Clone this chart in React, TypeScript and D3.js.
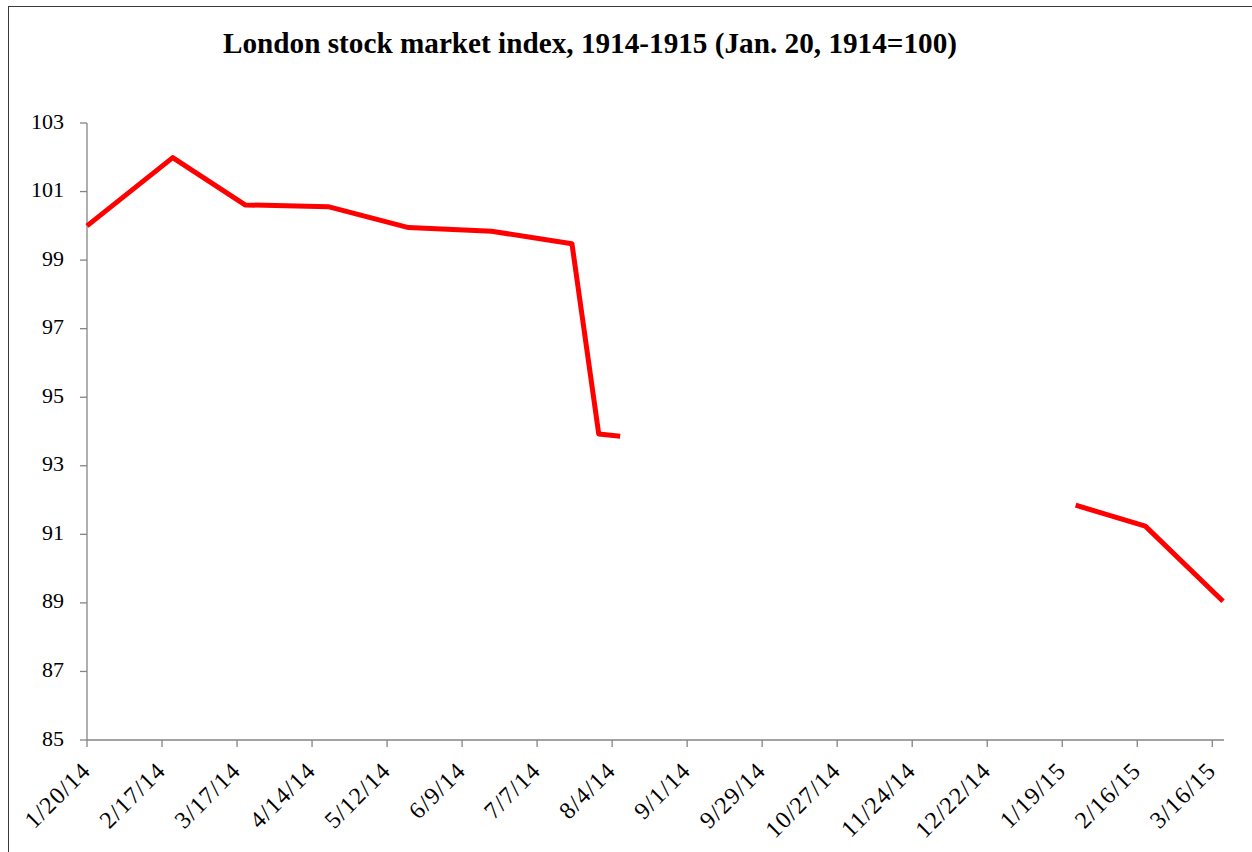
import React from "react";
import * as d3 from "d3";

const TITLE = "London stock market index, 1914-1915 (Jan. 20, 1914=100)";

// Segment 1 (before the exchange closed) and segment 2 (after reopening)
const seg1Dates = ["1914-01-20", "1914-02-21", "1914-03-20", "1914-04-20", "1914-05-20", "1914-06-20", "1914-07-20", "1914-07-30", "1914-08-07"];
const seg1Values = [100.0, 101.99, 100.61, 100.56, 99.95, 99.84, 99.48, 93.93, 93.86];
const seg2Dates = ["1915-01-24", "1915-02-19", "1915-03-20"];
const seg2Values = [91.85, 91.24, 89.05];

const yTicks = [85, 87, 89, 91, 93, 95, 97, 99, 101, 103];
const xStart = "1914-01-20";
const xEnd = "1915-03-20";
const tickStepDays = 28;

const W = 1252;
const H = 852;
const FONT = "'Liberation Serif', 'Times New Roman', serif";

const parse = d3.utcParse("%Y-%m-%d");

export default function App() {
  const x = d3.scaleUtc().domain([parse(xStart)!, parse(xEnd)!]).range([87, 1223]);
  const y = d3.scaleLinear().domain([85, 103]).range([740, 123]);

  const xTicks: Date[] = [];
  const startD = parse(xStart)!;
  const endD = parse(xEnd)!;
  for (let d = startD; d <= endD; d = d3.utcDay.offset(d, tickStepDays)) xTicks.push(d);
  const fmt = (d: Date) => `${d.getUTCMonth() + 1}/${d.getUTCDate()}/${String(d.getUTCFullYear()).slice(2)}`;

  const line = d3
    .line<[Date, number]>()
    .x((d) => x(d[0]))
    .y((d) => y(d[1]));

  const s1: [Date, number][] = seg1Dates.map((d, i) => [parse(d)!, seg1Values[i]]);
  const s2: [Date, number][] = seg2Dates.map((d, i) => [parse(d)!, seg2Values[i]]);

  const axisColor = "#858585";

  return (
    <svg
      width={W}
      height={H}
      style={{ position: "absolute", left: 0, top: 0, display: "block", background: "#fff" }}
      fontFamily={FONT}
    >
      <rect x={8.5} y={6.5} width={1300} height={900} fill="#fff" stroke="#3a3a3a" strokeWidth={1} />
      <text
        x={590}
        y={53}
        textAnchor="middle"
        fontSize={29}
        fontWeight="bold"
        fill="#000"
        textLength={734}
        lengthAdjust="spacingAndGlyphs"
      >
        {TITLE}
      </text>

      {/* Y axis */}
      <line x1={87} x2={87} y1={y(103)} y2={y(85)} stroke={axisColor} strokeWidth={1.3} />
      {yTicks.map((t) => (
        <g key={t}>
          <line x1={80} x2={87} y1={y(t)} y2={y(t)} stroke={axisColor} strokeWidth={1.3} />
          <text x={64} y={y(t) + 5.5} textAnchor="end" fontSize={22} fill="#000">
            {t}
          </text>
        </g>
      ))}

      {/* X axis */}
      <line x1={87} x2={1224} y1={740} y2={740} stroke={axisColor} strokeWidth={1.3} />
      {xTicks.map((t, i) => (
        <g key={i}>
          <line x1={x(t)} x2={x(t)} y1={740} y2={747} stroke={axisColor} strokeWidth={1.3} />
          <text
            transform={`translate(${x(t) + 5},${772}) rotate(-45)`}
            textAnchor="end"
            fontSize={24}
            letterSpacing={1.2}
            fill="#000"
          >
            {fmt(t)}
          </text>
        </g>
      ))}

      <path d={line(s1)!} fill="none" stroke="#ff0000" strokeWidth={5} strokeLinejoin="round" />
      <path d={line(s2)!} fill="none" stroke="#ff0000" strokeWidth={5} strokeLinejoin="round" />
    </svg>
  );
}
